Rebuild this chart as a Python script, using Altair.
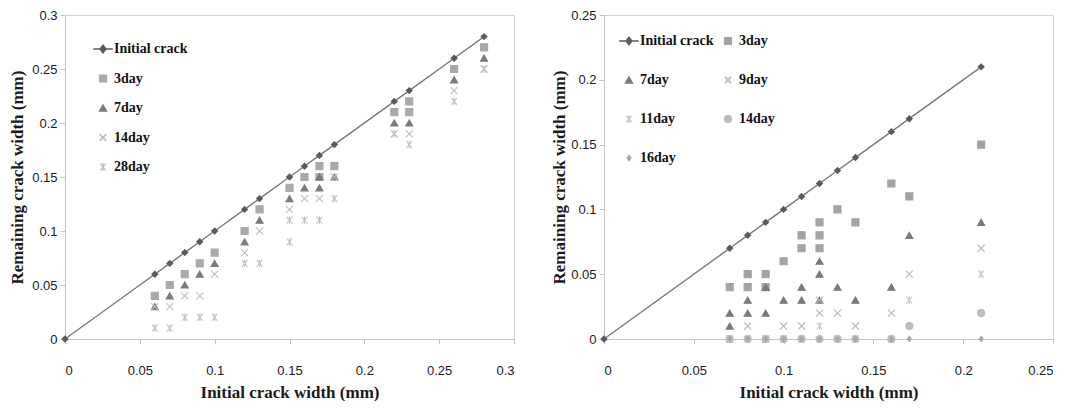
import altair as alt
import pandas as pd

# ---------------- Left panel data ----------------
L_init_x = [0, 0.06, 0.07, 0.08, 0.09, 0.10, 0.12, 0.13, 0.15, 0.16, 0.17, 0.18, 0.22, 0.23, 0.26, 0.28]
L_init_y = [0, 0.06, 0.07, 0.08, 0.09, 0.10, 0.12, 0.13, 0.15, 0.16, 0.17, 0.18, 0.22, 0.23, 0.26, 0.28]

L_3day_x = [0.06, 0.07, 0.08, 0.09, 0.10, 0.12, 0.13, 0.15, 0.16, 0.17, 0.17, 0.18, 0.22, 0.23, 0.23, 0.26, 0.28]
L_3day_y = [0.04, 0.05, 0.06, 0.07, 0.08, 0.10, 0.12, 0.14, 0.15, 0.16, 0.15, 0.16, 0.21, 0.22, 0.21, 0.25, 0.27]

L_7day_x = [0.06, 0.07, 0.08, 0.09, 0.10, 0.12, 0.13, 0.15, 0.16, 0.17, 0.17, 0.18, 0.22, 0.23, 0.26, 0.28]
L_7day_y = [0.03, 0.04, 0.05, 0.06, 0.07, 0.09, 0.11, 0.13, 0.14, 0.15, 0.14, 0.15, 0.20, 0.20, 0.24, 0.26]

L_14day_x = [0.06, 0.07, 0.08, 0.09, 0.10, 0.12, 0.13, 0.15, 0.16, 0.17, 0.18, 0.22, 0.23, 0.26, 0.28]
L_14day_y = [0.03, 0.03, 0.04, 0.04, 0.06, 0.08, 0.10, 0.12, 0.13, 0.13, 0.15, 0.19, 0.19, 0.23, 0.25]

L_28day_x = [0.06, 0.07, 0.08, 0.09, 0.10, 0.12, 0.13, 0.15, 0.15, 0.16, 0.17, 0.18, 0.22, 0.23, 0.26, 0.28]
L_28day_y = [0.01, 0.01, 0.02, 0.02, 0.02, 0.07, 0.07, 0.11, 0.09, 0.11, 0.11, 0.13, 0.19, 0.18, 0.22, 0.25]

# ---------------- Right panel data ----------------
R_init_x = [0, 0.07, 0.08, 0.09, 0.10, 0.11, 0.12, 0.13, 0.14, 0.16, 0.17, 0.21]
R_init_y = [0, 0.07, 0.08, 0.09, 0.10, 0.11, 0.12, 0.13, 0.14, 0.16, 0.17, 0.21]

R_3day_x = [0.07, 0.08, 0.08, 0.09, 0.09, 0.10, 0.11, 0.11, 0.12, 0.12, 0.12, 0.13, 0.14, 0.16, 0.17, 0.21]
R_3day_y = [0.04, 0.05, 0.04, 0.05, 0.04, 0.06, 0.08, 0.07, 0.09, 0.08, 0.07, 0.10, 0.09, 0.12, 0.11, 0.15]

R_7day_x = [0.07, 0.07, 0.08, 0.08, 0.09, 0.09, 0.10, 0.11, 0.11, 0.12, 0.12, 0.12, 0.13, 0.14, 0.16, 0.17, 0.21]
R_7day_y = [0.02, 0.01, 0.03, 0.02, 0.04, 0.02, 0.03, 0.04, 0.03, 0.06, 0.05, 0.03, 0.04, 0.03, 0.04, 0.08, 0.09]

R_9day_x = [0.07, 0.08, 0.09, 0.10, 0.11, 0.12, 0.12, 0.13, 0.14, 0.16, 0.17, 0.21]
R_9day_y = [0.00, 0.01, 0.00, 0.01, 0.01, 0.03, 0.02, 0.02, 0.01, 0.02, 0.05, 0.07]

R_11day_x = [0.07, 0.08, 0.09, 0.10, 0.11, 0.12, 0.13, 0.14, 0.16, 0.17, 0.21]
R_11day_y = [0.00, 0.00, 0.00, 0.00, 0.00, 0.01, 0.00, 0.00, 0.00, 0.03, 0.05]

R_14day_x = [0.07, 0.08, 0.09, 0.10, 0.11, 0.12, 0.13, 0.14, 0.16, 0.17, 0.21]
R_14day_y = [0.00, 0.00, 0.00, 0.00, 0.00, 0.00, 0.00, 0.00, 0.00, 0.01, 0.02]

R_16day_x = [0.07, 0.08, 0.09, 0.10, 0.11, 0.12, 0.13, 0.14, 0.16, 0.17, 0.21]
R_16day_y = [0.00, 0.00, 0.00, 0.00, 0.00, 0.00, 0.00, 0.00, 0.00, 0.00, 0.00]

L_ticks = [0, 0.05, 0.1, 0.15, 0.2, 0.25, 0.3]
R_ticks = [0, 0.05, 0.1, 0.15, 0.2, 0.25]

X_TITLE = "Initial crack width (mm)"
Y_TITLE = "Remaining crack width (mm)"

# ---------------- shapes / colours ----------------
XPATH = "M-1,-1L1,1M-1,1L1,-1"
ASTER = "M-0.8,-1L0.8,1M-0.8,1L0.8,-1M0,-1.1L0,1.1"
INITSYM = "M-2.9,0L2.9,0M0,-1.1L0.85,0L0,1.1L-0.85,0Z"
SMALLDIA = "M0,-0.75L0.55,0L0,0.75L-0.55,0Z"
CIRCLE = "circle"

LABEL_FONT = "'Liberation Sans Narrow', 'Liberation Sans', sans-serif"
TITLE_FONT = "Liberation Serif"
W = 449
H = 324


def frame(series_list):
    rows = []
    for name, xs, ys in series_list:
        for a, b in zip(xs, ys):
            rows.append({"x": a, "y": b, "series": name})
    return pd.DataFrame(rows)


def panel(init_x, init_y, others, domain, shapes, colors, ticks, ymax,
          legend_cfg, title_pad):
    init_df = frame([("Initial crack", init_x, init_y)])
    pts_df = frame(others)
    xs = alt.Scale(domain=[0, ticks[-1]], nice=False, zero=True)
    ys = alt.Scale(domain=[0, ymax], nice=False, zero=True)
    xax = alt.Axis(values=ticks, format=".2~f", title=X_TITLE, grid=False,
                   labelPadding=20, titlePadding=7)
    yax = alt.Axis(values=ticks, format=".2~f", title=Y_TITLE, grid=False,
                   labelPadding=3, titlePadding=title_pad)
    line = alt.Chart(init_df).mark_line(color="#7a7a7a", strokeWidth=1.4).encode(
        x=alt.X("x:Q", scale=xs, axis=xax),
        y=alt.Y("y:Q", scale=ys, axis=yax),
    )
    dia = alt.Chart(init_df).mark_point(shape="diamond", filled=True, size=55,
                                        color="#5a5a5a", opacity=1).encode(
        x=alt.X("x:Q", scale=xs, axis=xax),
        y=alt.Y("y:Q", scale=ys, axis=yax),
    )
    lg = alt.Legend(title=None, **legend_cfg)
    pts = alt.Chart(pts_df).mark_point(filled=True, strokeWidth=1.1, opacity=1, size=50).encode(
        x=alt.X("x:Q", scale=xs, axis=xax),
        y=alt.Y("y:Q", scale=ys, axis=yax),
        shape=alt.Shape("series:N", scale=alt.Scale(domain=domain, range=shapes), legend=lg),
        fill=alt.Fill("series:N", scale=alt.Scale(domain=domain, range=colors), legend=lg),
        stroke=alt.Stroke("series:N", scale=alt.Scale(domain=domain, range=colors), legend=lg),
    )
    return alt.layer(line, dia, pts).properties(width=W, height=H)


left_domain = ["Initial crack", "3day", "7day", "14day", "28day"]
left = panel(
    L_init_x, L_init_y,
    [("3day", L_3day_x, L_3day_y), ("7day", L_7day_x, L_7day_y),
     ("14day", L_14day_x, L_14day_y), ("28day", L_28day_x, L_28day_y)],
    left_domain,
    [INITSYM, "square", "triangle-up", XPATH, ASTER],
    ["#5a5a5a", "#a9a9a9", "#7a7a7a", "#bdbdbd", "#c2c2c2"],
    L_ticks, 0.3,
    dict(orient="none", legendX=31, legendY=27, direction="vertical",
         rowPadding=15.5, labelOffset=4, symbolSize=45, padding=0),
    5,
)

right_domain = ["Initial crack", "3day", "7day", "9day", "11day", "14day", "16day"]
right = panel(
    R_init_x, R_init_y,
    [("3day", R_3day_x, R_3day_y), ("7day", R_7day_x, R_7day_y),
     ("9day", R_9day_x, R_9day_y), ("11day", R_11day_x, R_11day_y),
     ("14day", R_14day_x, R_14day_y), ("16day", R_16day_x, R_16day_y)],
    right_domain,
    [INITSYM, "square", "triangle-up", XPATH, ASTER, CIRCLE, SMALLDIA],
    ["#5a5a5a", "#a3a3a3", "#7a7a7a", "#b8b8b8", "#c8c8c8", "#bdbdbd", "#a8a8a8"],
    R_ticks, 0.25,
    dict(orient="none", legendX=18, legendY=19, direction="horizontal", columns=2,
         rowPadding=25, columnPadding=7, labelOffset=4, symbolSize=45, padding=0),
    2,
)

chart = alt.hconcat(left, right, spacing=35).resolve_scale(
    shape="independent", fill="independent", stroke="independent",
    x="independent", y="independent",
).resolve_legend(
    shape="independent", fill="independent", stroke="independent",
).properties(
    padding={"left": 0, "top": 0, "right": 0, "bottom": 0}
).configure_view(
    stroke="#d4d4d4", strokeWidth=1
).configure_axis(
    domainColor="#c4c4c4", tickColor="#c4c4c4", tickSize=5,
    labelFont=LABEL_FONT, labelFontSize=13, labelColor="#1a1a1a",
    titleFont=TITLE_FONT, titleFontSize=17, titleFontWeight="bold", titleColor="#1a1a1a",
).configure_legend(
    labelFont=TITLE_FONT, labelFontSize=14, labelFontWeight="bold", labelColor="#111111",
)

chart.save("out.html", embed_options={"renderer": "svg", "actions": False})
